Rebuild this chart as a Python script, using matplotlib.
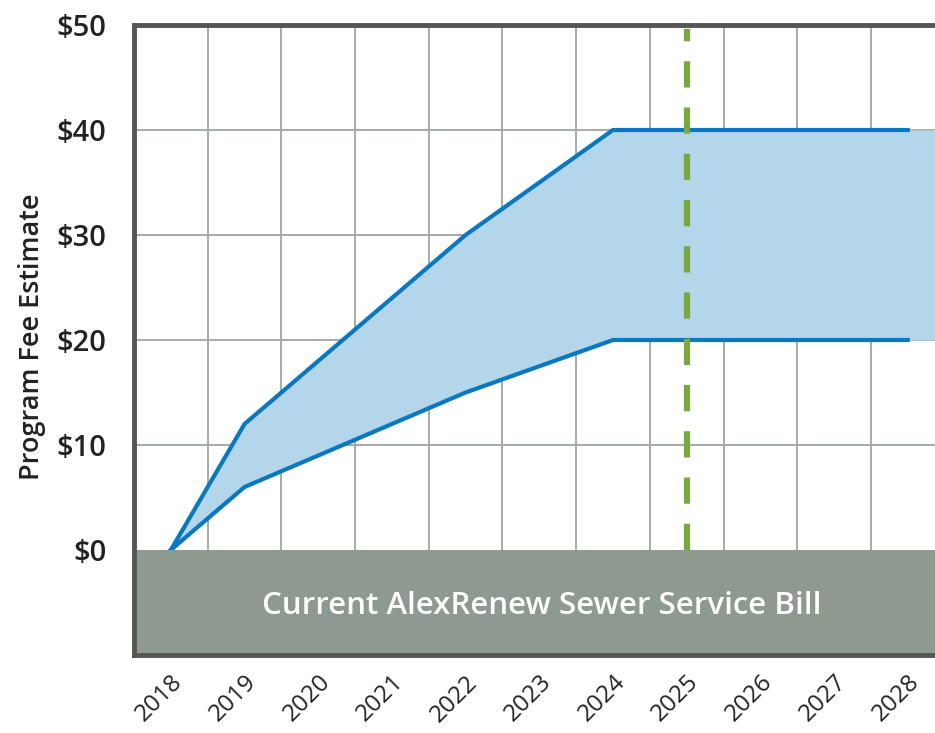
import matplotlib.pyplot as plt

# kink points of the fee range
years = [2018, 2019, 2022, 2024, 2028]
fee_high = [0, 12, 30, 40, 40]
fee_low = [0, 6, 15, 20, 20]

tick_years = list(range(2018, 2029))
y_ticks = [0, 10, 20, 30, 40, 50]
marker_year = 2025
bill_label = "Current AlexRenew Sewer Service Bill"

X_MIN, X_MAX = 2017.5, 2028.37
Y_MIN, Y_MAX = -10, 50

LINE_BLUE = "#0a78c0"
FILL_BLUE = "#b3d6eb"
GRID = "#a3ada5"
BILL_GRAY = "#8e9a8f"
SPINE = "#555555"
GREEN = "#7aa83c"

plt.rcParams["font.family"] = ["Open Sans", "DejaVu Sans"]

fig = plt.figure(figsize=(9.35, 7.33), dpi=100)
ax = fig.add_axes([0.1433, 0.1064, 0.8567, 0.8595])

# grid: horizontal at fee ticks, vertical between years
for v in y_ticks[1:-1]:
    ax.axhline(v, color=GRID, lw=1.4, zorder=1)
for y in tick_years[:-1]:
    ax.axvline(y + 0.5, color=GRID, lw=1.4, zorder=1)

# fill extends to the right edge, lines stop at the last year
fill_x = years + [X_MAX]
fill_hi = fee_high + [fee_high[-1]]
fill_lo = fee_low + [fee_low[-1]]
ax.fill_between(fill_x, fill_lo, fill_hi, color=FILL_BLUE, lw=0, zorder=2)
ax.plot(years, fee_high, color=LINE_BLUE, lw=3, solid_joinstyle="miter", zorder=3)
ax.plot(years, fee_low, color=LINE_BLUE, lw=3, solid_joinstyle="miter", zorder=3)

ax.plot([marker_year, marker_year], [0, Y_MAX - 0.4], color=GREEN, lw=4.5,
        linestyle=(0, (4.2, 3.2)), solid_capstyle="butt", zorder=4)

# current bill band
ax.axhspan(Y_MIN, 0, color=BILL_GRAY, lw=0, zorder=5)
ax.text((X_MIN + X_MAX) / 2 + 0.1, -5.3, bill_label, color="white",
        fontsize=22.5, fontweight="semibold", ha="center", va="center", zorder=6)

ax.set_xlim(X_MIN, X_MAX)
ax.set_ylim(Y_MIN, Y_MAX)
ax.set_yticks(y_ticks)
ax.set_yticklabels([f"${v}" for v in y_ticks], fontsize=21, fontweight="semibold",
                   color="#222222")
ax.set_xticks(tick_years)
ax.set_xticklabels([str(y) for y in tick_years], fontsize=17.5, rotation=45,
                   ha="right", va="top", rotation_mode="anchor", color="#222222")
ax.tick_params(axis="both", length=0)
ax.tick_params(axis="y", pad=20)
ax.tick_params(axis="x", pad=11)
ax.set_ylabel("Program Fee Estimate", fontsize=19.5, fontweight="semibold",
              color="#222222")
ax.yaxis.set_label_coords(-0.11, 0.505)

for side in ["left", "bottom", "top"]:
    ax.spines[side].set_color(SPINE)
    ax.spines[side].set_linewidth(3.5)
    ax.spines[side].set_zorder(7)
ax.spines["right"].set_visible(False)

fig.savefig("out.png", dpi=100)
